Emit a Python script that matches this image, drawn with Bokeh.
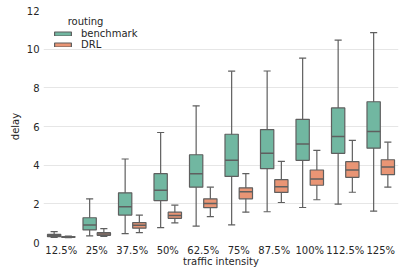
from bokeh.plotting import figure
from bokeh.models import ColumnDataSource, FactorRange, Legend, LegendItem, Label
from bokeh.transform import dodge
from bokeh.embed import file_html
from bokeh.resources import INLINE

cats = ["12.5%", "25%", "37.5%", "50%", "62.5%", "75%", "87.5%", "100%", "112.5%", "125%"]

bench_lo = [0.26, 0.34, 0.46, 0.77, 0.85, 0.91, 1.59, 1.81, 1.98, 1.62]
bench_q1 = [0.30, 0.65, 1.42, 2.17, 2.86, 3.42, 3.82, 4.25, 4.61, 4.88]
bench_med = [0.36, 0.90, 1.85, 2.70, 3.55, 4.25, 4.61, 5.09, 5.48, 5.74]
bench_q3 = [0.42, 1.28, 2.57, 3.56, 4.54, 5.60, 5.84, 6.37, 6.96, 7.28]
bench_hi = [0.56, 2.26, 4.32, 5.69, 7.07, 8.86, 8.87, 9.54, 10.47, 10.86]

drl_lo = [0.25, 0.31, 0.51, 1.01, 1.34, 1.57, 2.07, 2.21, 2.60, 2.86]
drl_q1 = [0.27, 0.37, 0.74, 1.25, 1.80, 2.26, 2.59, 2.96, 3.37, 3.51]
drl_med = [0.29, 0.44, 0.89, 1.40, 2.02, 2.62, 2.88, 3.29, 3.75, 3.91]
drl_q3 = [0.31, 0.51, 1.03, 1.57, 2.26, 2.83, 3.25, 3.75, 4.18, 4.28]
drl_hi = [0.33, 0.72, 1.42, 1.93, 2.86, 3.56, 4.20, 4.76, 5.28, 5.19]

series = [
    ("benchmark", -0.2, "#71b7a1", bench_lo, bench_q1, bench_med, bench_q3, bench_hi),
    ("DRL", 0.2, "#e99575", drl_lo, drl_q1, drl_med, drl_q3, drl_hi),
]

EDGE = "#5f5f5f"
TXT = "#262626"
FONT = "DejaVu Sans"

p = figure(
    x_range=FactorRange(*cats, range_padding=0),
    y_range=(0, 12),
    width=400, height=269,
    output_backend="svg", toolbar_location=None,
    min_border_left=43, min_border_right=2, min_border_top=10, min_border_bottom=26,
)
p.outline_line_color = None
p.background_fill_color = "white"
p.border_fill_color = "white"

items = []
for name, off, color, lo, q1, med, q3, hi in series:
    src = ColumnDataSource(dict(cat=cats, lo=lo, q1=q1, med=med, q3=q3, hi=hi))
    xc = dodge("cat", off, range=p.x_range)
    p.segment(x0=xc, x1=xc, y0="lo", y1="hi", source=src, line_color=EDGE, line_width=1.2)
    p.segment(x0=dodge("cat", off - 0.1, range=p.x_range), x1=dodge("cat", off + 0.1, range=p.x_range),
              y0="lo", y1="lo", source=src, line_color=EDGE, line_width=1.2)
    p.segment(x0=dodge("cat", off - 0.1, range=p.x_range), x1=dodge("cat", off + 0.1, range=p.x_range),
              y0="hi", y1="hi", source=src, line_color=EDGE, line_width=1.2)
    r = p.vbar(x=xc, width=0.375, bottom="q1", top="q3", source=src,
               fill_color=color, line_color=EDGE, line_width=1.2)
    p.segment(x0=dodge("cat", off - 0.1875, range=p.x_range), x1=dodge("cat", off + 0.1875, range=p.x_range),
              y0="med", y1="med", source=src, line_color=EDGE, line_width=1.5)
    items.append(LegendItem(label=name, renderers=[r]))

legend = Legend(
    items=items, location=(9, 192),
    glyph_width=21, glyph_height=5, label_height=10, label_standoff=8, spacing=0,
    padding=0, margin=0,
    background_fill_alpha=0, border_line_alpha=0,
    label_text_font=FONT, label_text_font_size="10px", label_text_color=TXT,
)
p.add_layout(legend)
p.add_layout(Label(x=42, y=221, x_units="screen", y_units="screen", text="routing",
                   text_align="center", text_baseline="middle",
                   text_font=FONT, text_font_size="10px", text_color=TXT))

p.xgrid.grid_line_color = None
p.ygrid.grid_line_color = "#e6e6e6"
p.ygrid.grid_line_width = 1.2
p.yaxis.ticker = [0, 2, 4, 6, 8, 10, 12]

for ax in (p.xaxis[0], p.yaxis[0]):
    ax.axis_line_color = None
    ax.major_tick_line_color = None
    ax.minor_tick_line_color = None
    ax.major_tick_out = 0
    ax.major_tick_in = 0
    ax.minor_tick_out = 0
    ax.major_label_text_font = FONT
    ax.major_label_text_font_size = "10px"
    ax.major_label_text_color = TXT
    ax.axis_label_text_font = FONT
    ax.axis_label_text_font_size = "10px"
    ax.axis_label_text_font_style = "normal"
    ax.axis_label_text_color = TXT

p.xaxis.axis_label = "traffic intensity"
p.yaxis.axis_label = "delay"
p.xaxis.major_label_standoff = 2
p.yaxis.major_label_standoff = 4
p.xaxis.axis_label_standoff = -3
p.yaxis.axis_label_standoff = 3
p.xaxis.group_text_font_size = "10px"

open("out.html", "w").write(file_html(p, INLINE))
